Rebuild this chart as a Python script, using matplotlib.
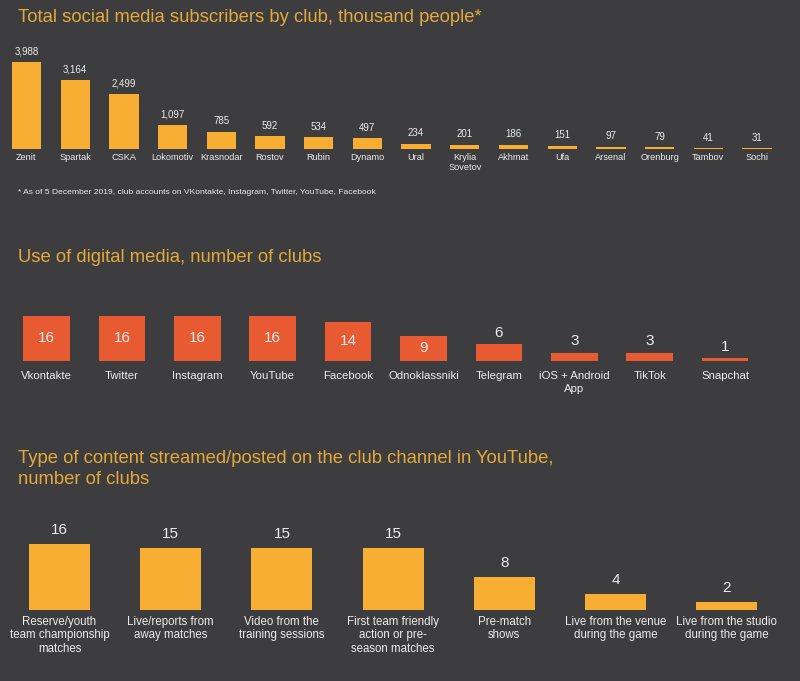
import numpy as np
import matplotlib
matplotlib.use("Agg")
import matplotlib.pyplot as plt

plt.rcParams['font.family'] = ['Liberation Sans', 'DejaVu Sans']

# data
clubs = ['Zenit', 'Spartak', 'CSKA', 'Lokomotiv', 'Krasnodar', 'Rostov', 'Rubin', 'Dynamo',
         'Ural', 'Krylia\nSovetov', 'Akhmat', 'Ufa', 'Arsenal', 'Orenburg', 'Tambov', 'Sochi']
subscribers = [3988, 3164, 2499, 1097, 785, 592, 534, 497, 234, 201, 186, 151, 97, 79, 41, 31]

media = ['Vkontakte', 'Twitter', 'Instagram', 'YouTube', 'Facebook', 'Odnoklassniki',
         'Telegram', 'iOS + Android\nApp', 'TikTok', 'Snapchat']
media_clubs = [16, 16, 16, 16, 14, 9, 6, 3, 3, 1]

content = ['Reserve/youth\nteam championship\nmatches', 'Live/reports from\naway matches',
           'Video from the\ntraining sessions', 'First team friendly\naction or pre-\nseason matches',
           'Pre-match\nshows', 'Live from the venue\nduring the game', 'Live from the studio\nduring the game']
content_clubs = [16, 15, 15, 15, 8, 4, 2]

BG = '#3d3d3f'
ORANGE = '#f7ae33'
RED = '#e85a32'
GOLD = '#e3a93a'
TXT = '#ececec'

W, H = 800, 681
fig = plt.figure(figsize=(W / 100, H / 100), dpi=100, facecolor=BG)


def panel(top_px, base_px, c0, step, n, ymax_val, bar_px):
    # axes spanning full width, from top_px down to the bar baseline
    ax = fig.add_axes([0, (H - base_px) / H, 1, (base_px - top_px) / H])
    ax.set_facecolor(BG)
    ax.axis('off')
    ax.set_xlim(-c0 / step, (W - c0) / step)
    ax.set_ylim(0, ymax_val * (base_px - top_px) / bar_px)
    return ax


def fmt(v):
    return f'{v:,}'


# --- panel 1 ---
fig.text(18 / W, 1 - 18 / H, 'Total social media subscribers by club, thousand people*',
         color=GOLD, fontsize=13.3, va='center', ha='left')
ax1 = panel(30, 149, 26.5, 48.7, len(clubs), max(subscribers), 87)
x1 = np.arange(len(clubs))
ax1.bar(x1, subscribers, width=0.6, color=ORANGE)
for xi, v, lab in zip(x1, subscribers, clubs):
    ax1.annotate(fmt(v), (xi, v), xytext=(0, 4), textcoords='offset points',
                 ha='center', va='bottom', color=TXT, fontsize=7, annotation_clip=False)
    ax1.annotate(lab, (xi, 0), xytext=(0, -3), textcoords='offset points',
                 ha='center', va='top', color=TXT, fontsize=6.6, linespacing=1.1,
                 annotation_clip=False)
fig.text(18 / W, 1 - 192 / H,
         '* As of 5 December 2019, club accounts on VKontakte, Instagram, Twitter, YouTube, Facebook',
         color=TXT, fontsize=6.1, va='center', ha='left')

# --- panel 2 ---
fig.text(18 / W, 1 - 257 / H, 'Use of digital media, number of clubs',
         color=GOLD, fontsize=13.3, va='center', ha='left')
ax2 = panel(295, 361, 46.5, 75.4, len(media), 16, 45)
x2 = np.arange(len(media))
ax2.bar(x2, media_clubs, width=0.62, color=RED)
for xi, v, lab in zip(x2, media_clubs, media):
    if v >= 9:
        ax2.text(xi, v / 2, str(v), ha='center', va='center', color=TXT, fontsize=11)
    else:
        ax2.annotate(str(v), (xi, v), xytext=(0, 3), textcoords='offset points',
                     ha='center', va='bottom', color=TXT, fontsize=11, annotation_clip=False)
    ax2.annotate(lab, (xi, 0), xytext=(0, -7), textcoords='offset points',
                 ha='center', va='top', color=TXT, fontsize=8.2, linespacing=1.4,
                 annotation_clip=False)

# --- panel 3 ---
fig.text(18 / W, 1 - 469 / H,
         'Type of content streamed/posted on the club channel in YouTube,\nnumber of clubs',
         color=GOLD, fontsize=13.3, va='center', ha='left', linespacing=1.3)
ax3 = panel(515, 610, 59.5, 111.2, len(content), 16, 66)
x3 = np.arange(len(content))
ax3.bar(x3, content_clubs, width=0.55, color=ORANGE)
for xi, v, lab in zip(x3, content_clubs, content):
    ax3.annotate(str(v), (xi, v), xytext=(0, 5), textcoords='offset points',
                 ha='center', va='bottom', color=TXT, fontsize=11, annotation_clip=False)
    ax3.annotate(lab, (xi, 0), xytext=(0, -4), textcoords='offset points',
                 ha='center', va='top', color=TXT, fontsize=8.3, linespacing=1.2,
                 annotation_clip=False)

fig.savefig('out.png', dpi=100, facecolor=BG)
